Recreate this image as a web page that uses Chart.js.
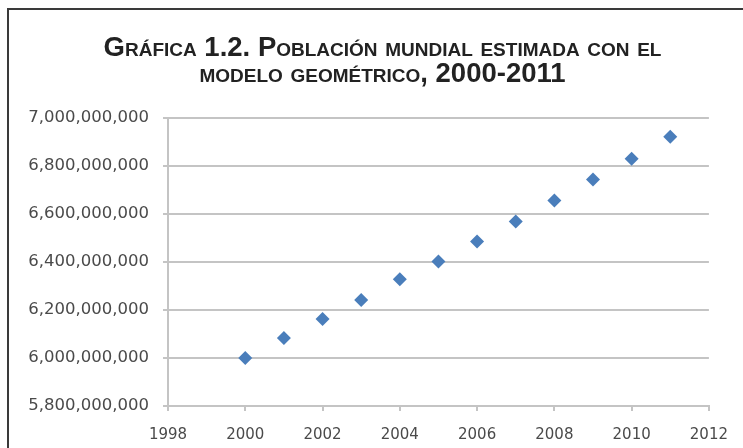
<!DOCTYPE html>
<html>
<head>
<meta charset="utf-8">
<script src="https://cdn.jsdelivr.net/npm/chart.js@4"></script>
<style>
  html, body { margin: 0; padding: 0; background: #ffffff; }
  #wrap { position: relative; width: 743px; height: 448px; overflow: hidden; }
  #frame { position: absolute; left: 7px; top: 8px; width: 800px; height: 500px;
           border-left: 2px solid #3a3a3a; border-top: 2px solid #3a3a3a; box-sizing: border-box; }
  canvas { position: absolute; left: 0; top: 0; }
</style>
</head>
<body>
<div id="wrap">
  <div id="frame"></div>
  <canvas id="c" width="743" height="448"></canvas>
</div>
<script>
const titleLines = ['Gráfica 1.2. Población mundial estimada con el', 'modelo geométrico, 2000-2011'];
const years = [2000, 2001, 2002, 2003, 2004, 2005, 2006, 2007, 2008, 2009, 2010, 2011];
const population = [6000000000, 6083000000, 6162000000, 6241000000, 6328000000, 6402000000,
                    6485000000, 6568000000, 6656000000, 6743000000, 6830000000, 6921000000];
const xTicks = [1998, 2000, 2002, 2004, 2006, 2008, 2010, 2012];
const yTicks = [5800000000, 6000000000, 6200000000, 6400000000, 6600000000, 6800000000, 7000000000];

const points = years.map((y, i) => ({ x: y, y: population[i] }));
const gridColor = '#c4c4c4';
const labelColor = '#4a4a4a';

new Chart(document.getElementById('c'), {
  type: 'scatter',
  data: {
    datasets: [{
      data: points,
      pointStyle: 'rectRot',
      pointRadius: 7,
      pointHoverRadius: 7,
      backgroundColor: '#4a7ebb',
      borderColor: '#4a7ebb',
      borderWidth: 0
    }]
  },
  options: {
    responsive: false,
    animation: false,
    layout: { padding: { left: 22, right: 0, top: 0, bottom: 0 } },
    plugins: {
      legend: { display: false },
      tooltip: { enabled: false },
      title: {
        display: true,
        text: titleLines,
        color: '#222222',
        font: { family: "'Liberation Sans', Arial, sans-serif", size: 27.5, weight: 'small-caps bold', lineHeight: 0.96 },
        padding: { top: 35, bottom: 30 },
        align: 'center'
      }
    },
    scales: {
      x: {
        type: 'linear',
        min: xTicks[0],
        max: xTicks[xTicks.length - 1],
        afterBuildTicks: (s) => { s.ticks = xTicks.map(v => ({ value: v })); },
        afterFit: (s) => { s.height = 42; },
        grid: { display: true, drawOnChartArea: false, drawTicks: true, tickLength: 5, color: gridColor, lineWidth: 2 },
        border: { display: true, color: gridColor, width: 2 },
        ticks: {
          color: labelColor,
          font: { family: "'DejaVu Sans', sans-serif", size: 15 },
          padding: 15,
          maxRotation: 0,
          autoSkip: false,
          callback: (v) => String(v)
        }
      },
      y: {
        type: 'linear',
        min: yTicks[0],
        max: yTicks[yTicks.length - 1],
        afterBuildTicks: (s) => { s.ticks = yTicks.map(v => ({ value: v })); },
        afterFit: (s) => { s.width = 146; },
        grid: { display: true, drawOnChartArea: true, drawTicks: true, tickLength: 5, color: gridColor, lineWidth: 2 },
        border: { display: true, color: gridColor, width: 2 },
        ticks: {
          color: labelColor,
          font: { family: "'DejaVu Sans', sans-serif", size: 16.5 },
          padding: 14,
          autoSkip: false,
          callback: (v) => Number(v).toLocaleString('en-US')
        }
      },
      yRight: {
        type: 'linear',
        position: 'right',
        display: true,
        min: yTicks[0],
        max: yTicks[yTicks.length - 1],
        afterFit: (s) => { s.width = 30; },
        grid: { display: false, drawOnChartArea: false, drawTicks: false },
        border: { display: false },
        ticks: { display: false }
      }
    }
  }
});
</script>
</body>
</html>
